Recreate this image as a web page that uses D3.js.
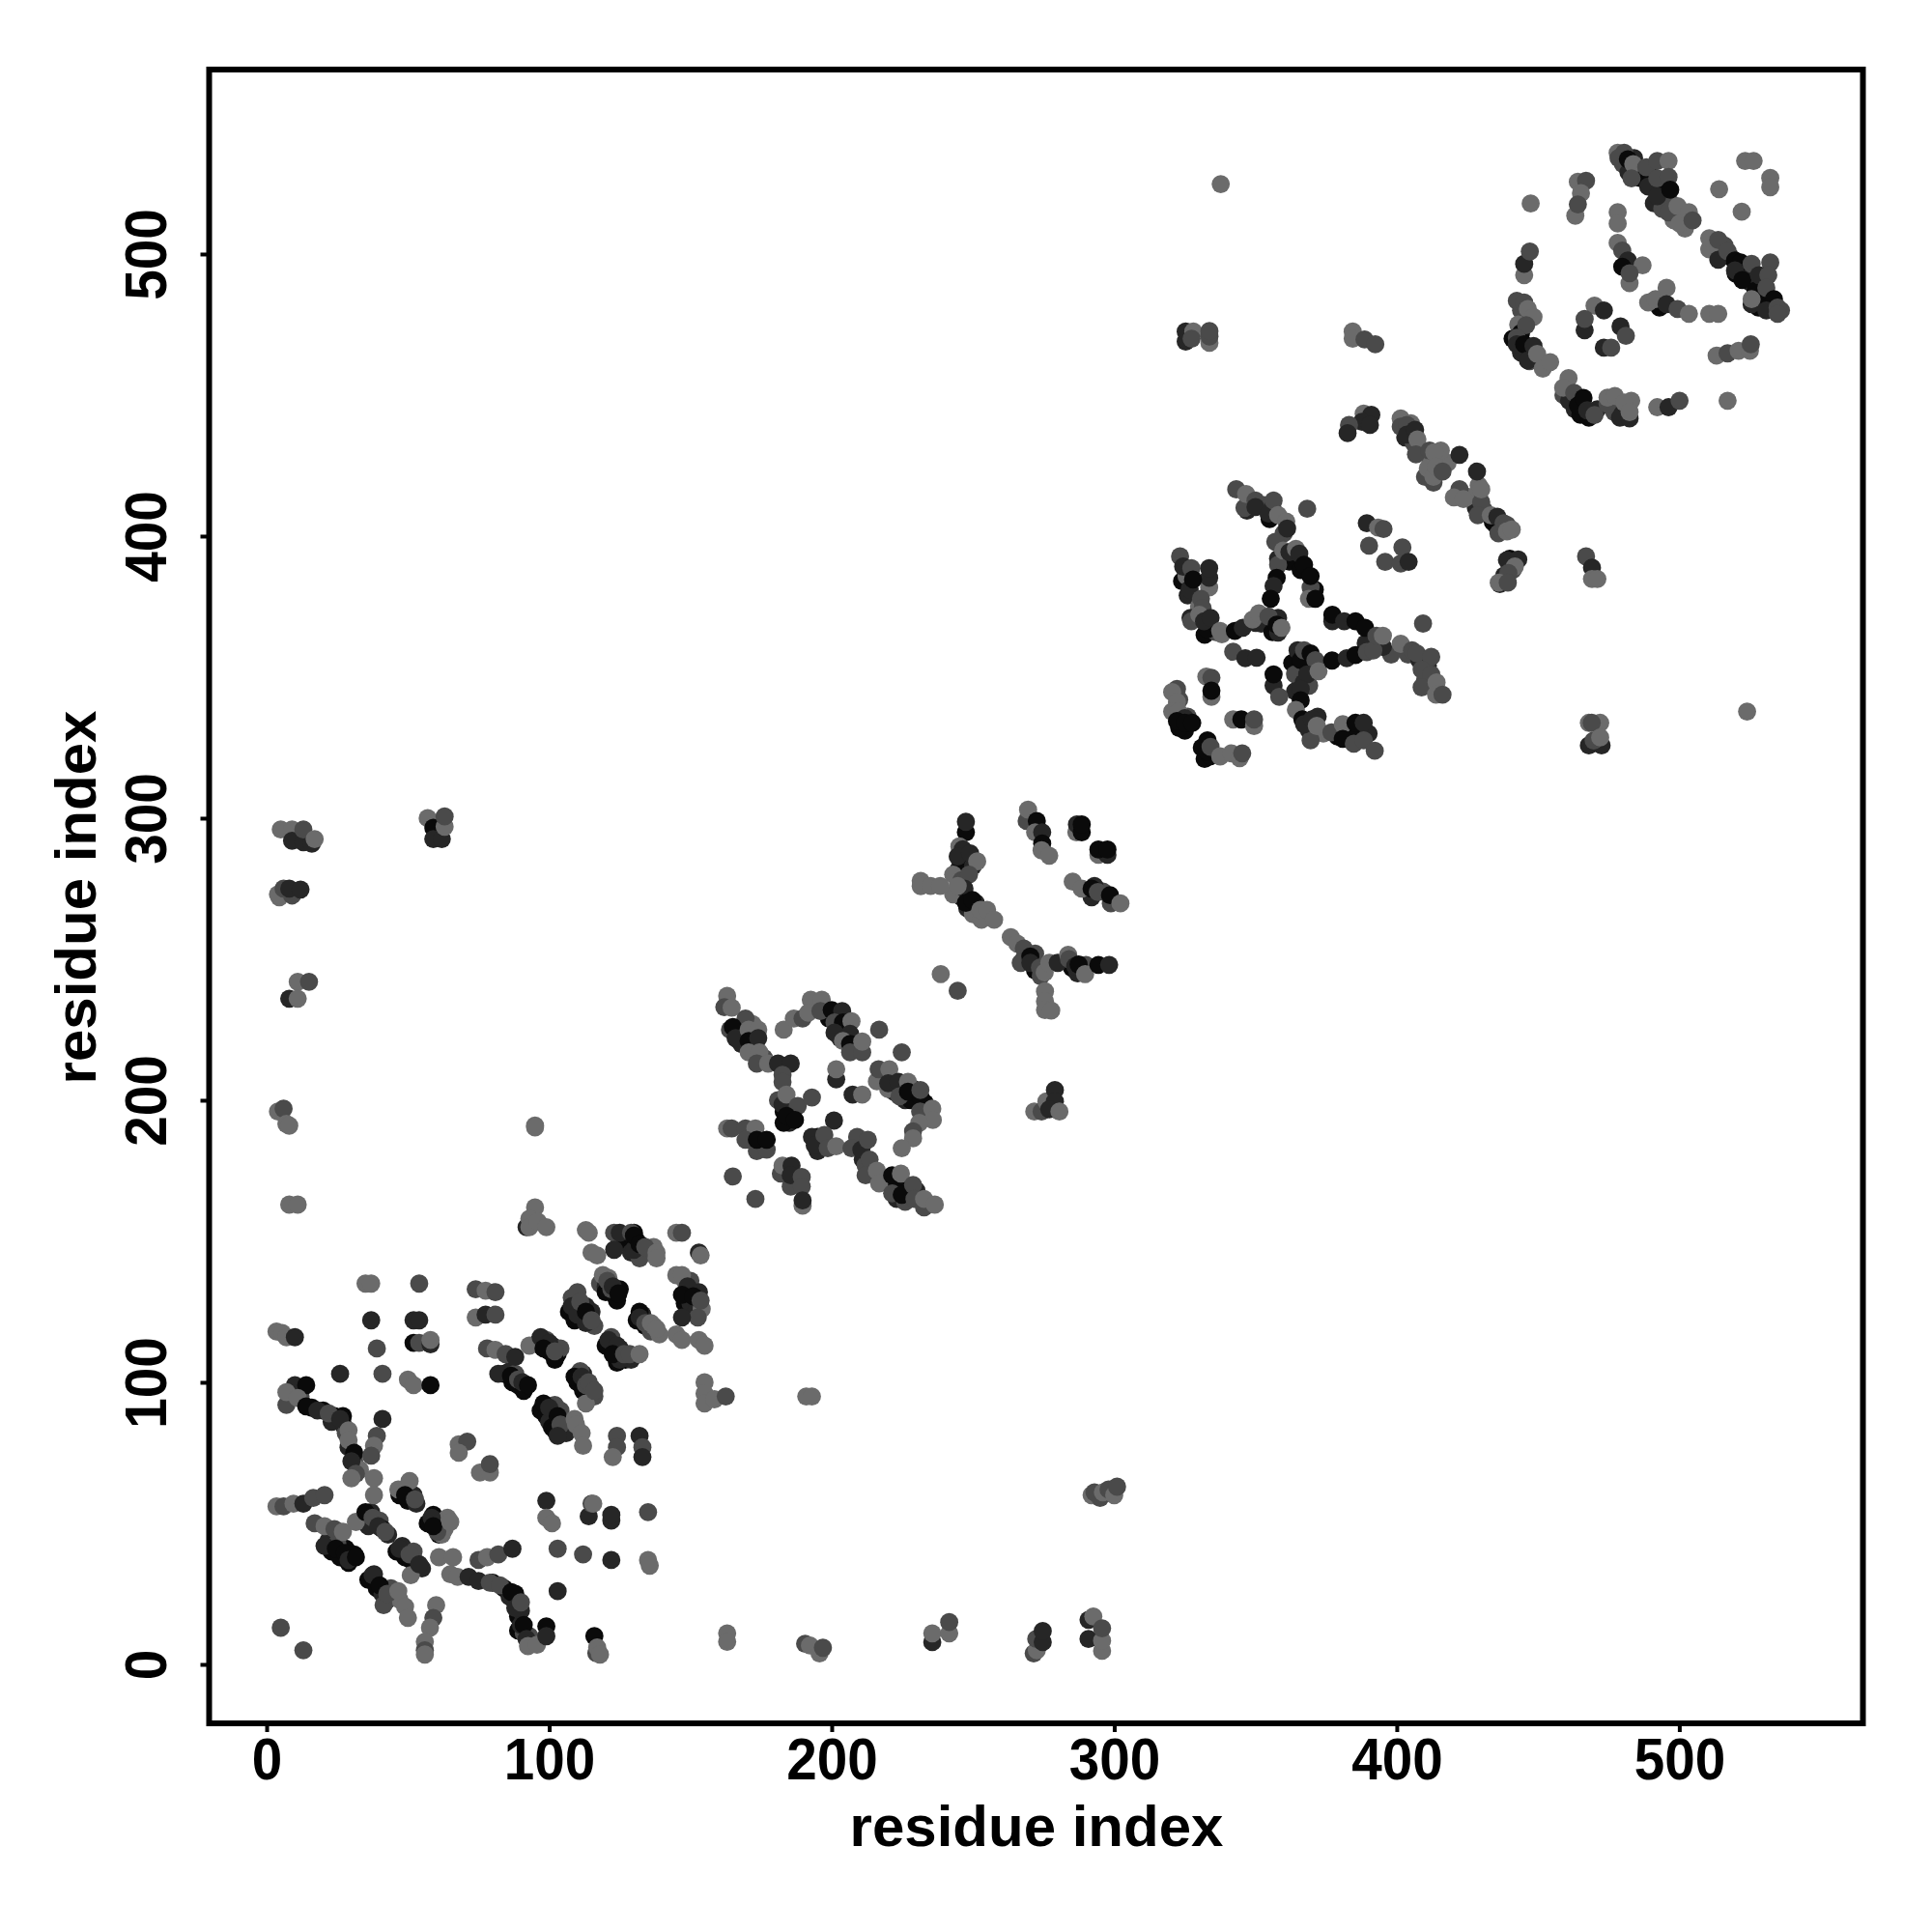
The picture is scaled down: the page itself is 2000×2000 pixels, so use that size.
<!DOCTYPE html>
<html><head><meta charset="utf-8">
<script src="https://cdn.jsdelivr.net/npm/d3@7"></script>
<style>html,body{margin:0;padding:0;background:#fff}svg{display:block}</style>
</head><body><svg id="c" width="2000" height="2000"></svg>
<script>
// each contact: [residue index x, residue index y, shade level 0 (lightest) .. 3 (darkest)]
const xTicks=[0,100,200,300,400,500];
const yTicks=[0,100,200,300,400,500];
const shadeLevels=["#6b6b6b","#4a4a4a","#262626","#0a0a0a"];
const axisLabel="residue index";

const ridgeOne=[
[9,97,2],[12,95,1],[16,91,3],[20,90,3],[24,88,3],[27,85,2],[28,82,1],[29,77,2],[31,72,1],[33,69,0],[27,88,3],[23,86,2],
[22,44,2],[23,40,3],[26,38,3],[28,41,3],[31,39,3],[25,43,1],[29,36,3],
[36,52,3],[37,54,2],[38,50,3],[40,51,1],[41,48,3],[43,46,2],[36,49,2],
[47,60,3],[48,62,1],[50,58,3],[52,60,2],[53,57,2],
[57,50,3],[59,53,3],[60,51,2],[62,49,1],[63,48,0],[64,52,0],[61,46,3],
[46,40,3],[48,42,2],[49,38,3],[51,37,3],[53,36,3],[52,40,1],[55,34,2],
[36,30,3],[38,32,2],[39,27,3],[41,25,2],[43,23,2],[44,27,1],[45,24,0],[47,23,0],
[80,29,3],[84,27,3],[86,24,2],[88,25,3],[89,17,3],[90,19,2],[89,12,3],[91,11,1],[94,8,0],[90,14,2],[93,10,1],
[96,114,3],[97,113,2],[99,115,1],[100,111,3],[101,113,2],[103,110,3],[104,112,1],
[84,103,3],[86,104,2],[87,100,3],[89,99,3],[91,97,3],[88,103,1],
[110,100,3],[112,103,2],[112,97,3],[114,97,3],[115,98,2],[116,95,1],[111,104,1],
[97,90,3],[99,88,3],[100,86,2],[101,84,3],[102,92,1],[104,90,1],[106,82,2],[102,83,3],
[108,130,1],[107,125,3],[109,122,3],[111,124,3],[113,127,2],[115,125,2],[116,120,1],
[118,135,1],[120,134,2],[121,137,0],[123,131,3],[125,133,3],[124,129,3],[120,132,3],
[120,113,3],[122,116,1],[123,110,3],[125,112,2],[127,108,3],[129,108,2],[124,107,3],
[131,122,3],[133,124,2],[134,120,3],[136,118,1],[137,120,0],[139,117,0],
[127,151,3],[128,149,3],[130,153,3],[131,150,3],[133,146,2],[135,146,1],[137,148,0],[129,146,2],[132,144,1],
[148,128,3],[150,133,2],[150,128,2],[152,125,2],[148,136,0],[150,136,1],[154,126,0],[153,132,2]
];
const ridgeTwo=[
[167,224,3],[168,226,3],[171,223,2],[173,220,2],[168,220,2],[172,227,0],[176,215,1],
[199,229,3],[203,225,3],[205,225,3],[203,222,2],[202,230,2],[208,219,1],
[183,196,3],[185,192,2],[181,200,1],[186,196,3],[183,192,3],
[222,203,2],[226,200,2],[229,204,3],[228,200,3],[224,204,3],[233,199,3],
[209,184,3],[211,179,2],[212,177,1],[214,176,1],[209,187,1],
[222,170,3],[223,165,2],[226,168,3],[226,164,1],[230,168,2],
[195,187,3],[195,182,2],[196,185,3]
];
const ridgeThree=[
[245,282,2],[246,284,3],[250,283,2],[243,280,0],[246,272,2],[248,268,2],[251,270,2],[250,266,0],[253,264,0],[246,278,1],[243,273,0],
[270,249,3],[268,250,2],[272,246,3],[274,244,1],[285,247,3],[287,245,2],[290,248,1],[272,252,1],
[292,272,2],[296,274,1],[293,276,2]
];
const ridgeFour=[
[348,412,2],[353,411,1],[356,410,2],[360,401,1],[355,406,3],[347,409,2],[357,398,1],[362,391,3],[366,388,3],[358,392,2],[371,381,3],
[324,384,3],[326,379,2],[330,375,0],[327,371,2],[332,365,3],[336,366,1],[352,369,2],[356,366,3],[358,371,2],
[363,355,3],[364,351,1],[368,355,2],[367,348,2],[369,347,1],[364,345,2],[369,331,2],[372,336,2],[374,330,0],
[379,329,3],[382,331,3],[386,329,3],[390,330,2],[393,361,1],[398,358,1],[389,362,2],[404,358,1],[408,356,2],[411,354,2],[410,349,1],[413,347,1],
[325,331,3],[323,332,3],[332,321,3],[334,322,3],[331,325,3],[323,342,1],[326,336,1]
];
const ridgeFive=[
[403,435,2],[406,433,1],[405,440,0],[412,427,0],[415,425,0],[418,426,0],[410,421,1],[413,419,1],[429,418,0],[428,410,2],[431,409,1],[435,404,2],[434,405,3],[436,401,1],[438,386,2],[441,388,1],[425,414,0],[440,392,3]
];
const ridgeSix=[
[480,532,1],[482,529,2],[484,534,2],[486,527,3],[490,528,3],[492,525,3],[494,522,3],[491,518,2],[494,516,1],[497,518,1],[501,513,1],[498,512,0],[502,509,0],
[514,499,2],[516,503,1],[518,499,3],[520,493,3],[524,495,2],[525,490,2],[527,487,3],[530,485,3],[533,482,3],[536,480,1],[528,481,3],
[444,480,1],[443,475,0],[441,470,3],[444,465,2],[447,462,1],[450,462,1],[444,472,3],
[459,450,1],[461,448,2],[463,445,2],[465,443,3],[468,442,3],[471,445,2],[477,444,1],[480,445,2],[483,448,0],[479,442,2],[490,483,1],[493,481,3]
];
const domainOne=[
[5,13,1],[13,5,1],[3.5,118,0],[5.5,117.5,0],[7,116,0],[10,116,2],
[7,92,1],[10,99,2],[14,99,3],[7,96.5,0],[11,94.5,0],[14,91.5,3],[18,90,2],[22,89,1],[26,87,2],[29,83,0],[29,79.5,0],[31,75,3],[30,72,2],[31.6,67.6,1],[30,66,0],
[41,87,2],[39,81,1],[38,77.5,0],[37,74,1],[38,66,0],[38,60,0],
[3.5,56,0],[6,56,1],[9.5,57,0],[13,57,2],[16.5,59,1],[20.5,60,1],
[35,135,0],[37,135,0],[54,135,1],[37,122,2],[39,112,1],[41,103,1],[26,103,2],[52,122,2],[54,122,2],[52,114,3],[54,114,1],[58,113.5,2],[58,115,0],[50,101,0],[52,99,0],[58,99,3],
[17,50,1],[20.5,49,0],[24,48,1],[27,47,0],[20.5,42,2],[24.5,41,3],[27.7,39.5,3],[29,37,2],[31.6,38,3],
[46.6,62,0],[50.6,65,0],[49,60,3],[52.5,58.5,1],[31.6,50.5,0],[35,54,3],[37.5,52,1],[39.5,49,2],[42,47,1],
[62,46,0],[60.4,47,1],[58.4,52,2],[59,49,3],[65,50.5,0],
[51,31.6,0],[47,41,2],[50.6,39,1],[54,35.5,2],[37.5,31.6,2],[40,28,3],[41.4,21,1],[42.7,25,1],[46.6,26,0],[49,20.5,0],[50,16.5,0],
[61,38,0],[66,38,0],[65,32,0],[67.6,31,0],[71.5,31,2],[75,37,1],[78,38,0],[82,39,1],[87,41,2],[75,29.6,2],[79,29,1],[82.6,28,1],[86.6,25.6,3],[88,20,2],[90,22,1],[91,14,3],[92,9,2],[92.5,6.5,0],[95.7,7,0],[99,13.5,3],[99,10,2],
[60,21,0],[59,16.5,1],[57.8,13,0],[56,8,0],[56,5,1],[56,3.5,0],
[68,78,0],[71,79,1],[68,75,0],[75.5,68,0],[79,68,0],[79,71,1]
];
const domainOneB=[
[74,133,1],[77.5,132.5,0],[81,132,1],[74,123,0],[77.5,124,2],[81,124,1],
[78,112,1],[81,111.5,0],[84.6,110,1],[88,109,2],[82,103,2],[86.5,102.3,3],[89,101,1],[90.5,100,2],[92.5,99,3],
[93,113,0],[97,116,2],[100,114,2],[98,112,3],[102,108,3],[102,111,1],
[113,92.5,0],[109,102,3],[111.5,102,2],[113,99,1],[114,100,1],[116,97,1],
[98,92.5,3],[100,91,2],[103,88,3],[104,85,1],[103,81,2],[109,87,0],[109.5,85,0],[111.5,82,0],[112,77.5,0],
[124,81,1],[124,77,1],[122.5,73.5,0],[132,81,2],[133,77,1],[133,73.5,2],
[121,115,2],[124,113,2],[125,108,2],[122.5,110,3],[126.5,110,1],[128.5,110,1],[132,110,0],
[110,132,1],[108,127,2],[110,124,2],[113,121,2],[111,128.5,1],[113,125,3],[115,122,1],
[119,138,0],[120.6,136,1],[122,133,1],[122.5,134,2],[124.5,131.5,3],
[132,125,3],[132,123,2],[134,121,1],[136,121,0],[138,119,0],
[113,154,0],[114,153,0],[115,146,0],[117,145,0],[123,153,1],[125,153,2],[123,147,2],
[130,147,2],[129,153,1],[130,152,3],[132,149,3],[134,148,1],[138,146,0],[138,144,0],
[145,153,0],[147,153,1],[153,146,2],[153.6,145,0],
[145,138,0],[147,138,0],[149,134,2],[147,131,3],[151,130.5,3],[153.6,129,1],[152.6,123,1],[147,123,2],[145,117,0],[147,115,0],[153,115,0],[155,113,0],
[155,100,0],[155,96,0],[155,92.5,0],[158.5,94,0],[162.5,95,1],
[92,155,2],[95,162,0],[93,158,0],[93,155,0],[96,157,0],[99,155,0],
[99,58,2],[99,52,0],[101,50,0],[114,52.5,2],[115,57,1],[115.6,57,0],[122,51,2],[122,53,2],[135,54,1],
[103,41,1],[112,39,1],[122,37,2],[135,37,0],[135.6,35,0],[103,26,2],
[116,10,3],[116.7,4,1],[117,6,0],[118,3.5,0],[163,11,0],[163,8,0],
[8,163,0],[11,163,0]
];
const domainLeftFar=[
[5,296,0],[9,296,0],[9,292,2],[13,291.5,2],[16,291,2],[13,296,1],[17,292.6,0],
[57,300,0],[59,296.6,3],[59,292.6,2],[62,292.6,2],[63,297,0],[63,300.6,1],
[4.5,272,0],[4,273,0],[6,275,1],[9,272.6,1],[8,275,2],[12,274.7,2],
[11,242,0],[15,242,1],[8,236,2],[11,236,0],
[4,196,0],[6,197,1],[7,191.6,0],[8,191,0],[95,191,0],[95,190.4,0],
[191,95,0],[193,95,0],
[292,60,0],[295,59,1],[293,61,1],[296,61,0],[298,62,1],[300,60,0],[301,63,1]
];
const domainBottom=[
[190.6,7.3,1],[192.3,6.7,0],[195.7,3.9,0],[196.9,5.9,1],
[235.6,7.9,2],[235.6,11,0],[241.6,11,0],[241.6,15,1],
[271.5,3.9,1],[272.6,5,0],[272.4,9,1],[274.7,7.9,2],[274.7,11.8,2],
[290.9,9,2],[290.9,15.8,2],[292.6,17,0],[295.7,4.8,0],[295.7,8.4,0],[295.7,12.8,1]
];
const domainTwo=[
[163,237,0],[162,233,1],[164,225,1],[164.6,232.8,0],[169.5,229,1],[165,226,3],[166,222,2],[170.6,225,0],[174,225,0],[170.6,221,3],[174,222,2],[170.6,217,0],[174.4,217,0],[173.5,213,1],[177.5,213,0],[181,213,2],[185.5,213,2],[182.6,209,1],[182.6,206.5,1],[182.6,198.5,2],[184,202,0],[188,198,1],[184,194.5,3],[187,193,3],[193,201,1],
[183,225,0],[186.6,229,0],[189.7,229,1],[192.6,235.6,0],[196.5,235.6,0],[191.7,231,0],[196,231.6,1],
[200,232,3],[203.7,231.6,2],[201,227.6,1],[204,227.6,3],[207,228,0],[201,224,2],[206.5,223.6,2],[204,221,0],[206.5,220,3],[206.5,217,1],[210.8,217,1],[210.8,220.8,0],[216.8,225,1],[224.8,217,1],
[201.6,207.4,2],[201.6,211,0],[207.4,202,2],[210.8,202,0],[200.8,192.8,2],
[216,206.7,0],[216.6,211,1],[220.4,211,0],[220,204,0],[220,206,2],[223.6,206.5,2],[227,206.5,0],[224,201.4,1],[227,203,3],[231.6,200.8,3],[231.4,203.6,1],[231.3,196,1],[235.6,197,0],[235.8,193,0],[231,192,0],[228.8,189,1],[228.8,186.5,0],[224.8,183,0],
[163,190,0],[164.6,190,1],[169.5,190,1],[173,190,0],[169.5,186,1],[173.5,182,1],[177,182.5,1],[173.5,186,3],[177,186,3],
[193,187,2],[194,184,2],[197.4,187.7,1],[198.6,183,1],[201.6,183.7,0],[207,183,1],[210.5,182.5,2],[212.8,186,1],[213.4,179,1],[212,173.4,1],[216,175,0],[216.8,170.5,0],[221.4,167,1],[221.4,173.4,3],[224.8,166.5,3],[224.5,174,0],[228.8,170,1],[229.3,165,1],[232.7,162,1],[232.7,165,0],[236.5,163,0],
[165,173,1],[173,165,1],
[182,174,1],[182.6,176.8,0],[185.5,169.4,1],[185.8,176.8,2],[185.5,173.4,2],[189.4,172.8,1],[189.4,169.4,1],[189.7,162.6,0],[189.7,164.5,2]
];
const domainThree=[
[238.6,244.7,0],[244.6,238.8,1],
[247.5,295,3],[247.5,298.7,2],[245.2,290,0],[246.4,289,2],[244.6,286.4,2],[249,287.5,2],[251.5,284.7,0],[248.6,280,1],[247,275,2],[244.6,276,0],[247.5,270,3],[249.8,271,3],[252.6,267.5,0],[255,267.5,0],[257.5,264,0],
[231.5,277.8,0],[231.5,275.9,0],[235,276,0],[238.4,276,0],
[269,299,1],[269.5,303,0],[272.6,299,3],[272,295,0],[274.5,295,2],[274.5,291,3],[274.3,288.6,0],[277,286.7,0],
[286.6,295,0],[286.8,297.8,2],[288.5,295,3],[288.5,297.8,3],[294.4,287,0],[297.6,287,2],[294.4,288.9,3],[297.6,288.9,3],
[285.3,277.5,0],[288.5,275,0],[292,275,3],[294.2,273.8,1],[298.8,269.8,1],[298.5,272.7,3],[302.2,269.8,0],
[263.4,257.8,0],[265.7,255.5,0],[268,253.8,1],[266.9,248.7,1],[270.3,251,3],[270.3,248.7,2],[273.7,247,1],[275.4,245.3,0],[277,248.7,0],[280,248.7,2],[283.7,251.6,0],[284,250,1],[286.2,247.5,2],[287.4,248.1,3],[289.7,244.7,0],[294.4,248,3],[298.2,248,2],
[275.5,238.6,0],[275.5,235,0],[275.5,232,0],[277.7,231.8,0],
[271.7,196,0],[274.3,196,1],[276,199.6,0],[279,203.6,2],[279,199.6,2],[277,196.8,2],[280.6,196,0]
];
const domainFour=[
[343.2,416.6,1],[346.1,410,1],[346.7,414.9,0],[350,412.6,1],[350,410.3,2],[354.6,408,2],[356.4,412.6,1],[358,407.5,0],[360.9,405.2,0],[361.2,402.7,2],[368.3,409.7,1],
[358,389.8,1],[359.8,394.9,0],[362,394.3,2],[364.3,395.5,0],[365.5,393.8,2],[367.2,389.8,3],[357.5,385.2,3],[369.5,381.8,1],[369.5,385.8,3],[356.4,382.3,2],[355.4,377.8,3],[368.9,377.8,0],[371.2,377.8,3],
[323.3,392.8,1],[325.6,385.8,0],[324.4,389.2,2],[327.3,388.6,1],[326.7,381.2,2],[333.6,381.8,0],[333.6,385.2,2],[333.6,388.6,2],[327.9,384.6,3],[330.7,377.8,1],[331.3,374.4,1],
[327.3,369.8,1],[333,367,3],[330.1,372.1,0],[331.8,369.8,2],[334.1,371,2],[337.5,366.4,0],[338.1,365.2,0],[342.7,366.4,3],[345.5,367.5,2],[350.1,369.2,2],[349,370.4,0],[351.2,372.6,0],[354.6,371.5,1],[358,365.8,2],[357.5,368.6,3],[359.2,367.5,0],
[342.1,359,1],[346.4,356.7,2],[350.4,356.9,2],
[364.9,359.5,2],[366,356,3],[367.2,359.5,1],[369.5,358.4,3],[371.2,356,1],[368.3,351,2],[372.3,352.1,0],[366,345.8,2],[366,341.8,3],[364.3,338.4,0],
[377.1,355.9,3],[382.3,356.7,2],[385.4,357.8,3],[389.4,358.9,1],
[377.2,369.8,2],[377.2,372.1,3],[381.4,369.8,2],[385.4,369.8,3],[388.8,367.5,3],[395.1,360.7,2],[391.7,359.5,1],[392.8,364.7,1],[395.1,364.7,0],
[401.4,361.8,0],[405.4,359.5,1],[407.1,358.4,1],[409.3,369,1],[412.2,357.2,1],[408.8,352.7,1],[412.2,351,1],[408.8,346.4,1],[414.1,348.1,0],[413.9,343.8,0],[416.2,343.8,1],
[332.6,350.2,0],[334.4,349.8,1],[334.4,343,0],[334.4,345.2,3],
[322.2,345.8,1],[320.5,344.7,0],[322.2,341.2,0],[320.5,337.8,0],[322.7,337.8,0],[325,335.5,2],[322.2,334.4,3],[325,333.8,3],[327.6,333.8,3],
[333,323.6,3],[333,327.6,3],[334.1,325.3,1],[337.5,321.9,0],[341.5,323,0],[344.4,321.3,0],[345.3,323,1],
[342.1,335,0],[345,335,3],[349.5,332.7,0],[349.5,335,1],
[356.4,347,2],[356.4,351,3],[358.4,343,1],
[369.5,327.6,1],[366.6,335,3],[367.2,333.3,2],[370,335,2],[371.7,332.7,0],
[376.9,330.4,1],[380.9,333.3,0],[380.9,328.1,3],[385.4,333.8,3],[388.3,333.8,2],[384.8,326.4,1],[388.3,327.6,1],[392.2,323.9,1]
];
const domainFive=[
[388.3,443.4,0],[391,443,2],[387.7,440.5,2],[383.1,439.4,1],[382.6,436.5,2],[390.5,439.4,2],
[401.4,441.7,0],[401.4,438.8,1],[403.6,439.4,1],[403.6,436,2],[406.5,437.7,2],[407.3,434.3,0],[406.8,429,1],
[411.6,430.3,1],[415.6,430.3,0],[413.3,429.7,0],[411,424,0],[413,421,0],[413.9,424.6,0],[416.2,422.9,1],[422.2,428.8,2],
[428.4,422.9,2],[422.2,416.6,1],[420.2,413.7,0],[423.6,413.1,0],[429.9,412,1],[429.9,416.6,0],[428.7,407.4,1],[433.3,407.4,0],[435.6,406.9,2],[437.8,404.6,1],[439,404,1],[439,401.7,0],[440.7,402.3,0],
[439,391.5,2],[443,391.7,2],[441.8,389.2,0],[439.5,386.9,1],[436.5,383,2],[436.1,383.5,0],[439.3,383.5,1],
[389.4,404.6,2],[393.4,403,0],[395.3,402.5,1],[390.2,396.6,1],[402,396,1],[395.9,390.9,1],[401.4,390.3,1],[404.2,390.9,2],
[337.7,524.8,0],[325.3,469,2],[325.3,472.5,2],[328,472.5,0],[327.4,470,1],[333.7,468.5,0],[333.7,470.8,1],[333.7,472.7,1],
[384.4,472.5,0],[384.4,470,0],[388.6,469.7,1],[392.4,468,1],
[467,392.8,1],[469.1,388.8,2],[469.1,384.8,0],[471,384.8,0],[524,337.8,0],
[468,333.8,0],[472,333.8,0],[469,333.8,1],[468,325.8,2],[472.5,325.8,2],[469.7,327.5,1],[472,328.6,0]
];
const domainSix=[
[447.4,517.9,0],[464.1,525.6,0],[467,526,1],[465.2,521.6,0],[463.2,513.6,0],[464.1,517.6,1],
[478.2,514.8,0],[478.2,510.8,0],
[478.2,535.9,0],[480.5,535.9,1],[478.5,534,1],[481.8,533.6,3],[483.7,531.9,0],[483.1,526.8,1],[489,523.9,2],[488.3,530.8,1],[492.2,533,1],[496.2,533,0],[492.2,526.8,1],[496.2,527.3,1],[492.2,520.5,2],[496.8,522.8,3],[496.2,514.8,1],[499.4,517,0],[500.1,510.8,0],[503.4,514.8,0],[504.7,511.9,1],
[514.1,523,0],[523.3,533,0],[526.3,533,0],[532.2,527,0],[532.2,523.7,0],[522.1,515,0],
[510.6,501.7,0],[510.6,505.6,0],[513.8,505,1],[513.8,498,2],[517.1,501,1],[519.7,497.7,3],[521.7,497,3],[519.7,494.2,2],[522.3,490.8,3],[525.6,496.5,1],[532.2,497,1],[528.2,492.5,2],[531.5,492.5,1],[530.8,488,1],[525.6,482.2,2],[525.6,484,0],[533.5,484,3],[530.8,480,2],[534.8,481,1],[534.8,478.8,1],
[445.1,492.5,0],[445.1,496.5,2],[447.1,500.9,1],
[442.5,483.4,1],[445.1,482.8,1],[446.4,480.5,0],[448.4,477.7,0],[445.8,474.8,1],[442.5,470.3,1],[442.5,468,2],[445.1,468,3],[448.4,467.4,2],[446.4,462.3,2],[449.7,464.6,0],[451.7,459.4,0],[454.3,461.7,0],
[460.8,456,0],[458.9,452.6,0],[462.8,450.8,1],[464.1,446.3,3],[466.1,449,3],[467.4,444.6,2],[470,442.9,1],[474.6,446.9,1],[474.6,449.1,0],[477.2,449.7,0],[480.5,447.4,0],[482.4,441.7,2],[482.4,444,0],
[492.2,445.7,0],[496.2,445.7,2],[500.1,448,1],[517.1,448,0],
[513.2,464,0],[517.1,464.8,1],[521,465.7,0],[525,465.7,0],[525.3,468,1],
[489,482.8,0],[491.6,484,0],[495.5,488,0],[495.5,482.2,2],[499.4,480.5,1],[503.4,478.8,0],[510.6,478.8,0],[513.8,478.8,0],
[478.2,504,0],[479.8,501.2,1],[481.8,497.7,2],[479.8,495.5,3],[487,496,0],[482.4,489.7,0],[482.4,493.2,1],
[470,481.7,0],[473.3,480,2],[466.5,473,2],[466.5,477,1],[479.2,474.3,2],[481.1,471,1],[473.3,466.8,2],[475.9,466.8,1]
];

const contacts=[...ridgeOne,...ridgeTwo,...ridgeThree,...ridgeFour,...ridgeFive,...ridgeSix,...domainLeftFar,...domainBottom,...domainOne,...domainOneB,...domainTwo,...domainThree,...domainFour,...domainFive,...domainSix];

const svg=d3.select("#c");
svg.append("rect").attr("width",2000).attr("height",2000).attr("fill","#fff");
const x=d3.scaleLinear().domain([-20.35,565]).range([216.5,1928.5]);
const y=d3.scaleLinear().domain([-20.9,565.4]).range([1784,72]);
const shade=d3.scaleOrdinal().domain([0,1,2,3]).range(shadeLevels);
const font="'Liberation Sans',Arial,sans-serif";

svg.append("g").selectAll("circle").data(contacts).join("circle")
  .attr("cx",d=>x(d[0])).attr("cy",d=>y(d[1])).attr("r",9.4).attr("fill",d=>shade(d[2]));

svg.append("rect").attr("x",216.5).attr("y",72).attr("width",1712).attr("height",1712)
  .attr("fill","none").attr("stroke","#000").attr("stroke-width",6);

const gx=svg.append("g").attr("transform","translate(0,1784)")
  .call(d3.axisBottom(x).tickValues(xTicks).tickSize(9).tickPadding(5).tickFormat(d3.format("d")));
const gy=svg.append("g").attr("transform","translate(216.5,0)")
  .call(d3.axisLeft(y).tickValues(yTicks).tickSize(9).tickPadding(0).tickFormat(d3.format("d")));
[gx,gy].forEach(g=>{
  g.select(".domain").remove();
  g.selectAll("line").attr("stroke","#000").attr("stroke-width",4);
  g.selectAll("text").attr("fill","#000").style("font-family",font).style("font-weight","bold").style("font-size","62px")
    .attr("textLength",d=>String(d).length*31.5).attr("lengthAdjust","spacingAndGlyphs");
});
gy.selectAll("text").attr("x",null).attr("dy",null).attr("text-anchor","middle")
  .attr("transform","translate(-45,0) rotate(-90)");

svg.append("text").attr("x",1073).attr("y",1911).attr("text-anchor","middle")
  .style("font-family",font).style("font-weight","bold").style("font-size","60px").text(axisLabel);
svg.append("text").attr("transform","translate(99,929) rotate(-90)").attr("text-anchor","middle")
  .style("font-family",font).style("font-weight","bold").style("font-size","60px").text(axisLabel);
</script></body></html>
